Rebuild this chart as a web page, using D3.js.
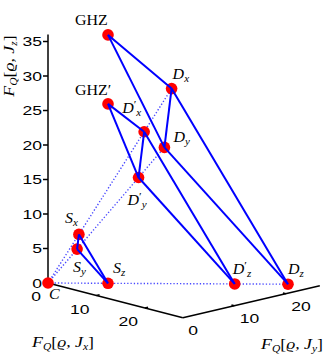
<!DOCTYPE html>
<html>
<head>
<meta charset="utf-8">
<script src="https://cdn.jsdelivr.net/npm/d3@7"></script>
<style>
  body { margin: 0; background: #fff; }
  svg { display: block; }
</style>
</head>
<body>
<div id="chart"></div>
<script>
// states: F_Q along x, y, z
var names = ["C", "Sx", "Sy", "Sz", "GHZ", "Dx", "Dy", "Dz", "GHZp", "Dpx", "Dpy", "Dpz"];
var fx = [0, 0, 6, 6, 6, 0, 24, 24, 6, 0, 18.67, 18.67];
var fy = [0, 6, 0, 6, 6, 24, 0, 24, 6, 18.67, 0, 18.67];
var fz = [0, 6, 6, 0, 36, 24, 24, 0, 26, 18.67, 18.67, 0];

// solid edges and dotted guides
var edges = [
    ["Sx", "Sy"], ["Sx", "Sz"], ["Sy", "Sz"],
    ["GHZ", "Dx"], ["GHZ", "Dy"], ["Dx", "Dy"], ["Dx", "Dz"], ["Dy", "Dz"],
    ["GHZp", "Dpx"], ["GHZp", "Dpy"], ["Dpx", "Dpy"], ["Dpx", "Dpz"], ["Dpy", "Dpz"]
];
var guides = [["C", "Dx"], ["C", "Dy"], ["C", "Dz"]];

var xTicks = [0, 10, 20],
    yTicks = [0, 10, 20],
    zTicks = [0, 5, 10, 15, 20, 25, 30, 35];

var xMax = 27.8, yMax = 26.6, zMax = 36;

var width = 327,
    height = 356;

var svg = d3.select("#chart")
    .append("svg")
    .attr("width", width)
    .attr("height", height);

// oblique projection, each scale gives a screen offset [dx, dy]
var origin = [48, 283];
var sx = d3.scaleLinear().domain([0, 1]).range([[0, 0], [4.85, 1.25]]);
var sy = d3.scaleLinear().domain([0, 1]).range([[0, 0], [5.15, -1.2]]);
var sz = d3.scaleLinear().domain([0, 1]).range([[0, 0], [0, -6.9]]);

function proj(x, y, z) {
    var a = sx(x), b = sy(y), c = sz(z);
    return [origin[0] + a[0] + b[0] + c[0], origin[1] + a[1] + b[1] + c[1]];
}

var pts = {};
names.forEach(function (n, i) {
    pts[n] = proj(fx[i], fy[i], fz[i]);
});

// axes
var axis = svg.append("g").attr("stroke", "#000").attr("stroke-width", 1.5).attr("fill", "none");
function seg(g, p, q) {
    g.append("line").attr("x1", p[0]).attr("y1", p[1]).attr("x2", q[0]).attr("y2", q[1]);
}
seg(axis, proj(0, 0, 0), proj(0, 0, zMax));
seg(axis, proj(0, 0, 0), proj(xMax, 0, 0));
seg(axis, proj(xMax, 0, 0), proj(xMax, yMax, 0));

var tickFont = "'Liberation Sans', Arial, Helvetica, sans-serif";

zTicks.forEach(function (t) {
    var p = proj(0, 0, t);
    seg(axis, p, [p[0] - 5, p[1]]);
    svg.append("text")
        .attr("transform", "translate(" + (p[0] - 6) + "," + (p[1] + 4.5) + ") scale(1.3,1)")
        .attr("text-anchor", "end")
        .attr("style", "font:13.5px " + tickFont)
        .text(t);
});
xTicks.forEach(function (t) {
    var p = proj(t, 0, 0);
    if (t > 0) seg(axis, p, proj(t, 0.6, 0));
    svg.append("text")
        .attr("transform", "translate(" + (p[0] - 7) + "," + (p[1] + 18) + ") scale(1.3,1)")
        .attr("text-anchor", "end")
        .attr("style", "font:13.5px " + tickFont)
        .text(t);
});
yTicks.forEach(function (t) {
    var p = proj(xMax, t, 0);
    if (t > 0) seg(axis, p, proj(xMax - 0.6, t, 0));
    svg.append("text")
        .attr("transform", "translate(" + (p[0] + 5.5) + "," + (p[1] + 17) + ") scale(1.3,1)")
        .attr("text-anchor", "start")
        .attr("style", "font:13.5px " + tickFont)
        .text(t);
});

// dotted guides
svg.append("g").selectAll("line")
    .data(guides)
    .enter()
    .append("line")
    .attr("x1", function (d) { return pts[d[0]][0]; })
    .attr("y1", function (d) { return pts[d[0]][1]; })
    .attr("x2", function (d) { return pts[d[1]][0]; })
    .attr("y2", function (d) { return pts[d[1]][1]; })
    .attr("stroke", "#1a1aff")
    .attr("stroke-opacity", 0.8)
    .attr("stroke-width", 1.4)
    .attr("stroke-dasharray", "1.3,2");

// markers
svg.append("g").selectAll("circle")
    .data(names)
    .enter()
    .append("circle")
    .attr("cx", function (d) { return pts[d][0]; })
    .attr("cy", function (d) { return pts[d][1]; })
    .attr("r", 5.8)
    .attr("fill", "#ff0000");

// solid edges
svg.append("g").selectAll("line")
    .data(edges)
    .enter()
    .append("line")
    .attr("x1", function (d) { return pts[d[0]][0]; })
    .attr("y1", function (d) { return pts[d[0]][1]; })
    .attr("x2", function (d) { return pts[d[1]][0]; })
    .attr("y2", function (d) { return pts[d[1]][1]; })
    .attr("stroke", "#0000ff")
    .attr("stroke-width", 2);

// point labels: [main, prime, sub, dx, dy, italic]
var serif = "'Liberation Serif', 'DejaVu Serif', serif";
var labels = {
    GHZ: ["GHZ", false, "", -33, -10, false],
    GHZp: ["GHZ", true, "", -33, -9, false],
    Dx: ["D", false, "x", 1, -10, true],
    Dy: ["D", false, "y", 9, -5, true],
    Dz: ["D", false, "z", 0, -10, true],
    Dpx: ["D", true, "x", -22, -19, true],
    Dpy: ["D", true, "y", -11, 27, true],
    Dpz: ["D", true, "z", -2, -10, true],
    Sx: ["S", false, "x", -14, -11, true],
    Sy: ["S", false, "y", -4, 23, true],
    Sz: ["S", false, "z", 5, -10, true],
    C: ["C", false, "", 1, 16, true]
};

Object.keys(labels).forEach(function (k) {
    var l = labels[k], p = pts[k];
    var t = svg.append("text")
        .attr("transform", "translate(" + (p[0] + l[3]) + "," + (p[1] + l[4]) + ") scale(1.1,1)")
        .attr("style", "font:14.5px " + serif)
        .attr("fill", "#000");
    t.append("tspan").attr("font-style", l[5] ? "italic" : "normal").text(l[0]);
    if (l[1] && l[2]) {
        t.append("tspan").attr("font-size", "11px").attr("dy", -5).text("\u2032");
        t.append("tspan").attr("font-size", "10px").attr("font-style", "italic").attr("dy", 8.5).text(l[2]);
    } else if (l[1]) {
        t.append("tspan").text("\u2032");
    } else if (l[2]) {
        t.append("tspan").attr("font-size", "10px").attr("font-style", "italic").attr("dy", 3).text(l[2]);
    }
});

// axis titles
function fq(g, sub) {
    g.append("tspan").attr("font-style", "italic").text("F");
    g.append("tspan").attr("font-size", "10px").attr("font-style", "italic").attr("dy", 3).text("Q");
    g.append("tspan").attr("dy", -3).text("[");
    g.append("tspan").attr("font-style", "italic").text("\u03f1, J");
    g.append("tspan").attr("font-size", "10px").attr("font-style", "italic").attr("dy", 3).text(sub);
    g.append("tspan").attr("dy", -3).text("]");
}
fq(svg.append("text").attr("transform", "translate(32,347) scale(1.15,1)")
    .attr("style", "font:15.5px " + serif).attr("fill", "#000"), "x");
fq(svg.append("text").attr("transform", "translate(261,349) scale(1.15,1)")
    .attr("style", "font:15.5px " + serif).attr("fill", "#000"), "y");
fq(svg.append("text").attr("transform", "translate(14,66) rotate(-90) scale(1.15,1)")
    .attr("text-anchor", "middle")
    .attr("style", "font:15.5px " + serif).attr("fill", "#000"), "z");
</script>
</body>
</html>
